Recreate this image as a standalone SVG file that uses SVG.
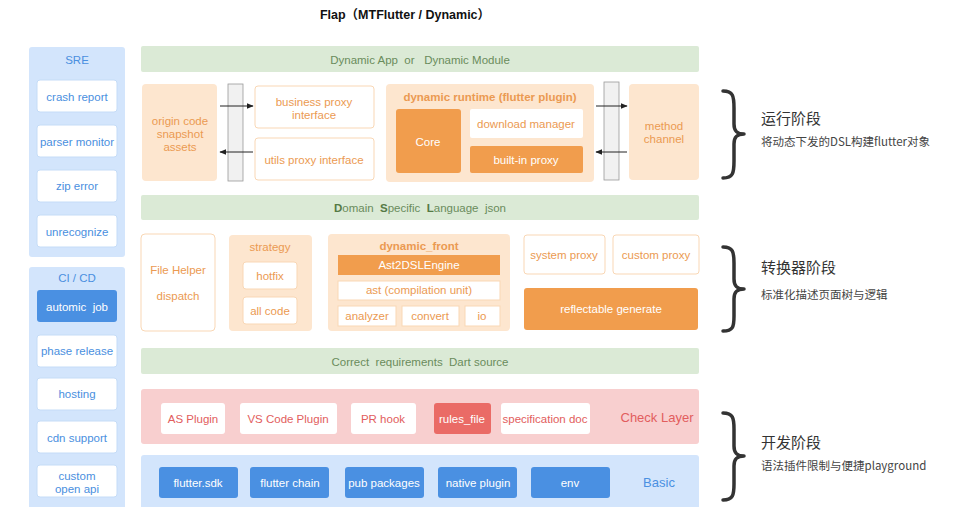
<svg xmlns="http://www.w3.org/2000/svg" width="954" height="507" viewBox="0 0 954 507">
<style>
text{font-family:"Liberation Sans",Arial,"Noto Sans CJK SC",sans-serif;font-size:11.5px;text-anchor:middle;dominant-baseline:central;white-space:pre}
.panel{fill:#d3e5fc}
.sbox{fill:#fff;stroke:#c5dcf7;stroke-width:1}
.stxt{fill:#4a8fe0}
.band{fill:#dbead6}
.btxt{fill:#6a8c5c}
.lo{fill:#fde6cf}
.wo{fill:#fff;stroke:#f9d7b5;stroke-width:1}
.ofill{fill:#f19d4d}
.otxt{fill:#eb9a52}
.wtxt{fill:#fff}
.bar{fill:#f1f1f1;stroke:#9a9a9a;stroke-width:0.8}
.pink{fill:#f8cfcf}
.rtxt{fill:#e25d5d}
.bblue{fill:#4a90e2}
.brace{fill:none;stroke:#333;stroke-width:3.5;stroke-linecap:round;stroke-linejoin:round}
.zh1{font-family:"Noto Sans CJK SC",sans-serif;font-size:15px;fill:#333;text-anchor:start}
.zh2{font-family:"Noto Sans CJK SC","Liberation Sans",sans-serif;font-size:11.5px;fill:#444;text-anchor:start}
.arr{stroke:#222;stroke-width:1;fill:none}
</style>
<defs>
<marker id="ah" viewBox="0 0 10 10" refX="9" refY="5" markerWidth="7" markerHeight="7" orient="auto"><path d="M0,1 L10,5 L0,9 z" fill="#222"/></marker>
</defs>
<rect width="954" height="507" fill="#fff"/>
<text x="405" y="15" style="font-weight:bold;font-size:12.5px;fill:#111">Flap（MTFlutter / Dynamic）</text>

<g id="sre">
<rect class="panel" x="29" y="47" width="96" height="210" rx="3"/>
<text class="stxt" x="77" y="60">SRE</text>
<rect class="sbox" x="37" y="80" width="80" height="32" rx="3"/><text class="stxt" x="77" y="97">crash report</text>
<rect class="sbox" x="37" y="125" width="80" height="32" rx="3"/><text class="stxt" x="77" y="142">parser monitor</text>
<rect class="sbox" x="37" y="170" width="80" height="32" rx="3"/><text class="stxt" x="77" y="186">zip error</text>
<rect class="sbox" x="37" y="215" width="80" height="32" rx="3"/><text class="stxt" x="77" y="232">unrecognize</text>
</g>
<g id="cicd">
<rect class="panel" x="29" y="267" width="96" height="245" rx="3"/>
<text class="stxt" x="77" y="278">CI / CD</text>
<rect class="bblue" x="37" y="290" width="80" height="32" rx="3"/><text class="wtxt" x="77" y="307">automic  job</text>
<rect class="sbox" x="37" y="335" width="80" height="32" rx="3"/><text class="stxt" x="77" y="351">phase release</text>
<rect class="sbox" x="37" y="378" width="80" height="32" rx="3"/><text class="stxt" x="77" y="394">hosting</text>
<rect class="sbox" x="37" y="421" width="80" height="32" rx="3"/><text class="stxt" x="77" y="438">cdn support</text>
<rect class="sbox" x="37" y="465" width="80" height="32" rx="3"/><text class="stxt" x="77" y="476">custom</text><text class="stxt" x="77" y="489">open api</text>
</g>

<g id="band-app">
<rect class="band" x="141" y="46" width="558" height="26" rx="2"/>
<text class="btxt" x="420" y="60">Dynamic App  or   Dynamic Module</text>
</g>

<g id="origin">
<rect class="lo" x="142" y="84" width="75" height="97" rx="4"/>
<text class="otxt" x="180" y="121">origin code</text><text class="otxt" x="180" y="134">snapshot</text><text class="otxt" x="180" y="147">assets</text>
</g>
<g id="bar1"><rect class="bar" x="228" y="84" width="15" height="97"/></g>
<g id="business-proxy">
<rect class="wo" x="255" y="86" width="119" height="42" rx="3"/>
<text class="otxt" x="314" y="102">business proxy</text><text class="otxt" x="314" y="115">interface</text>
</g>
<g id="utils-proxy">
<rect class="wo" x="255" y="138" width="119" height="42" rx="3"/>
<text class="otxt" x="314" y="160">utils proxy interface</text>
</g>
<g id="runtime">
<rect class="lo" x="386" y="84" width="208" height="98" rx="4"/>
<text class="otxt" x="490" y="97" style="font-weight:bold">dynamic runtime (flutter plugin)</text>
<rect class="ofill" x="396" y="109" width="65" height="64" rx="3"/><text class="wtxt" x="428" y="142">Core</text>
<rect fill="#fff" x="470" y="109" width="113" height="29" rx="2"/><text class="otxt" x="526" y="124">download manager</text>
<rect class="ofill" x="470" y="146" width="113" height="27" rx="2"/><text class="wtxt" x="526" y="160">built-in proxy</text>
</g>
<g id="bar2"><rect class="bar" x="604" y="82" width="15" height="98"/></g>
<g id="method-channel">
<rect class="lo" x="629" y="84" width="70" height="96" rx="4"/>
<text class="otxt" x="664" y="126">method</text><text class="otxt" x="664" y="139">channel</text>
</g>

<g id="band-dsl">
<rect class="band" x="141" y="195" width="558" height="25" rx="2"/>
<text class="btxt" x="420" y="208"><tspan style="font-weight:bold;fill:#557a45">D</tspan>omain  <tspan style="font-weight:bold;fill:#557a45">S</tspan>pecific  <tspan style="font-weight:bold;fill:#557a45">L</tspan>anguage  json</text>
</g>

<g id="file-helper">
<rect class="wo" x="141" y="234" width="74" height="97" rx="4"/>
<text class="otxt" x="178" y="270">File Helper</text><text class="otxt" x="178" y="296">dispatch</text>
</g>
<g id="strategy">
<rect class="lo" x="229" y="235" width="83" height="96" rx="4"/>
<text class="otxt" x="270" y="247">strategy</text>
<rect class="wo" x="243" y="262" width="54" height="27" rx="3"/><text class="otxt" x="270" y="276">hotfix</text>
<rect class="wo" x="243" y="297" width="54" height="27" rx="3"/><text class="otxt" x="270" y="311">all code</text>
</g>
<g id="dynamic-front">
<rect class="lo" x="328" y="234" width="182" height="97" rx="4"/>
<text class="otxt" x="419" y="246" style="font-weight:bold">dynamic_front</text>
<rect class="ofill" x="338" y="255" width="162" height="20"/><text class="wtxt" x="419" y="265">Ast2DSLEngine</text>
<rect class="wo" x="338" y="281" width="162" height="19"/><text class="otxt" x="419" y="290">ast (compilation unit)</text>
<rect class="wo" x="338" y="306" width="58" height="20"/><text class="otxt" x="367" y="316">analyzer</text>
<rect class="wo" x="402" y="306" width="57" height="20"/><text class="otxt" x="430" y="316">convert</text>
<rect class="wo" x="465" y="306" width="35" height="20"/><text class="otxt" x="482" y="316">io</text>
</g>
<g id="system-proxy">
<rect class="wo" x="524" y="235" width="81" height="39" rx="3"/><text class="otxt" x="564" y="255">system proxy</text>
</g>
<g id="custom-proxy">
<rect class="wo" x="613" y="235" width="86" height="39" rx="3"/><text class="otxt" x="656" y="255">custom proxy</text>
</g>
<g id="reflectable">
<rect class="ofill" x="524" y="288" width="174" height="42" rx="3"/><text class="wtxt" x="611" y="309">reflectable generate</text>
</g>

<g id="band-correct">
<rect class="band" x="141" y="348" width="558" height="26" rx="2"/>
<text class="btxt" x="420" y="362">Correct  requirements  Dart source</text>
</g>

<g id="check-layer">
<rect class="pink" x="141" y="389" width="558" height="55" rx="3"/>
<rect fill="#fff" x="161" y="403" width="64" height="31" rx="3"/><text class="rtxt" x="193" y="419">AS Plugin</text>
<rect fill="#fff" x="240" y="403" width="97" height="31" rx="3"/><text class="rtxt" x="288" y="419">VS Code Plugin</text>
<rect fill="#fff" x="351" y="403" width="65" height="31" rx="3"/><text class="rtxt" x="383" y="419">PR hook</text>
<rect fill="#ea6b66" x="434" y="403" width="57" height="31" rx="3"/><text class="wtxt" x="462" y="419">rules_file</text>
<rect fill="#fff" x="501" y="403" width="89" height="31" rx="3"/><text class="rtxt" x="545" y="419">specification doc</text>
<text class="rtxt" x="657" y="417" style="font-size:13px">Check Layer</text>
</g>

<g id="basic">
<rect class="panel" x="141" y="455" width="558" height="57" rx="3"/>
<rect class="bblue" x="159" y="467" width="79" height="31" rx="3"/><text class="wtxt" x="198" y="483">flutter.sdk</text>
<rect class="bblue" x="250" y="467" width="79" height="31" rx="3"/><text class="wtxt" x="290" y="483">flutter chain</text>
<rect class="bblue" x="345" y="467" width="79" height="31" rx="3"/><text class="wtxt" x="384" y="483">pub packages</text>
<rect class="bblue" x="438" y="467" width="79" height="31" rx="3"/><text class="wtxt" x="478" y="483">native plugin</text>
<rect class="bblue" x="531" y="467" width="79" height="31" rx="3"/><text class="wtxt" x="570" y="483">env</text>
<text x="659" y="482" style="font-size:13px;fill:#4a90e2">Basic</text>
</g>

<g id="connectors">
<line class="arr" x1="220" y1="106" x2="253" y2="106" marker-end="url(#ah)"/>
<line class="arr" x1="253" y1="152" x2="220" y2="152" marker-end="url(#ah)"/>
<line class="arr" x1="596" y1="106" x2="627" y2="106" marker-end="url(#ah)"/>
<line class="arr" x1="627" y1="152" x2="596" y2="152" marker-end="url(#ah)"/>
</g>

<g id="stage-run">
<path class="brace" d="M723,91 C733,91 734,96 734,108 L734,124 C734,131 737,134 744,134 C737,134 734,137 734,144 L734,161 C734,173 733,178 723,178"/>
<text class="zh1" x="761" y="117">运行阶段</text>
<text class="zh2" x="761" y="141">将动态下发的DSL构建flutter对象</text>
</g>
<g id="stage-convert">
<path class="brace" d="M723,247 C733,247 734,252 734,263 L734,279 C734,286 737,289 744,289 C737,289 734,292 734,299 L734,316 C734,327 733,331 723,331"/>
<text class="zh1" x="761" y="266">转换器阶段</text>
<text class="zh2" x="761" y="294">标准化描述页面树与逻辑</text>
</g>
<g id="stage-dev">
<path class="brace" d="M723,413 C733,413 734,418 734,429 L734,446 C734,453 737,456 744,456 C737,456 734,459 734,466 L734,484 C734,495 733,500 723,500"/>
<text class="zh1" x="761" y="441">开发阶段</text>
<text class="zh2" x="761" y="465">语法插件限制与便捷playground</text>
</g>
</svg>
